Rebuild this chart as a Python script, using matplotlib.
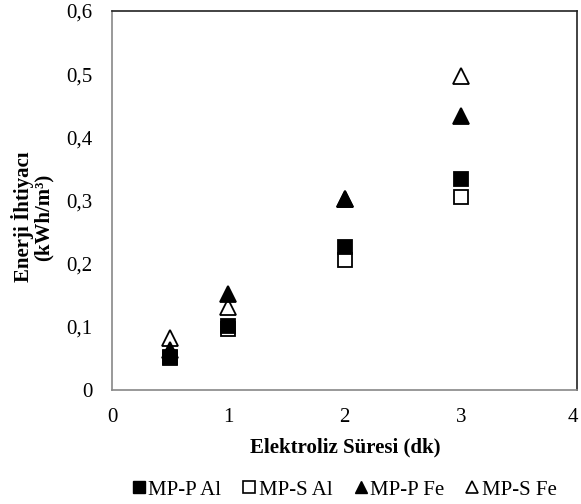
import numpy as np
import matplotlib
matplotlib.use('Agg')
import matplotlib.pyplot as plt
import matplotlib.transforms as mtransforms
from matplotlib.ticker import FuncFormatter

plt.rcParams['font.family'] = ['Liberation Serif', 'DejaVu Serif']

# veri
sure = [0.5, 1, 2, 3]
mp_p_al = [0.052, 0.102, 0.226, 0.334]
mp_s_al = [0.050, 0.097, 0.206, 0.306]
mp_p_fe = [0.063, 0.152, 0.303, 0.433]
mp_s_fe = [0.083, 0.131, 0.303, 0.497]

fig = plt.figure(figsize=(5.81, 5.04), dpi=100)
ax = fig.add_axes([112/581, 1-390/504, 465/581, 379/504])

# cizim sirasi: bos kare, dolu kare, bos ucgen, dolu ucgen
ax.plot(sure, mp_s_al, 's', ms=10, mfc='white', mec='black', mew=1.3, ls='none', zorder=3)
ax.plot(sure, mp_p_al, 's', ms=10, mfc='black', mec='black', mew=1.3, ls='none', zorder=4)
ax.plot(sure, mp_s_fe, '^', ms=11, mfc='white', mec='black', mew=1.3, ls='none', zorder=5)
ax.plot(sure, mp_p_fe, '^', ms=11, mfc='black', mec='black', mew=1.3, ls='none', zorder=6)

ax.set_xlim(0, 4)
ax.set_ylim(0, 0.6)
ax.set_xticks([0, 1, 2, 3, 4])
ax.set_yticks(np.arange(0, 0.61, 0.1))
ax.yaxis.set_major_formatter(FuncFormatter(lambda v, p: '0' if abs(v) < 1e-9 else ('%.1f' % v).replace('.', ',')))
ax.tick_params(length=0, labelsize=15)
ax.tick_params(axis='y', pad=14)
ax.tick_params(axis='x', pad=13)

# son etiket kenarda kesilmesin
son = ax.get_xticklabels()[-1]
son.set_transform(son.get_transform() + mtransforms.ScaledTranslation(-4/100, 0, fig.dpi_scale_trans))

ax.spines['left'].set_color('#888888')
ax.spines['bottom'].set_color('#888888')
ax.spines['top'].set_color('#222222')
ax.spines['right'].set_color('#222222')
for s in ax.spines.values():
    s.set_linewidth(1.2)

ax.set_xlabel('Elektroliz Süresi (dk)', fontsize=15, fontweight='bold', va='center')
ax.xaxis.set_label_coords((345-112)/465, (390-447)/379)
ax.set_ylabel('Enerji İhtiyacı\n(kWh/m³)', fontsize=15, fontweight='bold', va='center',
              linespacing=0.95)
ax.yaxis.set_label_coords((32-112)/465, (390-217)/379)

# lejant
h = [
    plt.Line2D([], [], marker='s', ls='none', ms=9, mfc='black', mec='black'),
    plt.Line2D([], [], marker='s', ls='none', ms=9, mfc='white', mec='black', mew=1.2),
    plt.Line2D([], [], marker='^', ls='none', ms=9, mfc='black', mec='black'),
    plt.Line2D([], [], marker='^', ls='none', ms=9, mfc='white', mec='black', mew=1.2),
]
fig.legend(h, ['MP-P Al', 'MP-S Al', 'MP-P Fe', 'MP-S Fe'], loc='center',
           bbox_to_anchor=(343/581, 1-490/504), ncol=4, frameon=False, fontsize=15,
           handletextpad=0.0, columnspacing=0.9, handlelength=0.9)

fig.savefig('out.png', dpi=100)
